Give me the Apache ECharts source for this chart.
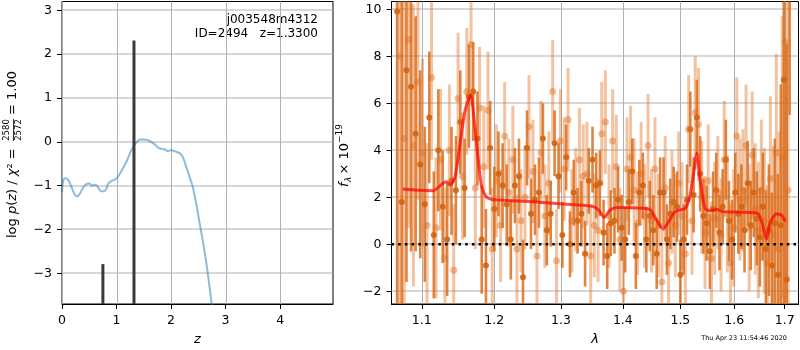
<!DOCTYPE html>
<html>
<head>
<meta charset="utf-8">
<script src="https://cdn.jsdelivr.net/npm/echarts@6/dist/echarts.min.js"></script>
<style>
  html, body { margin: 0; padding: 0; background: #fff; }
  #chart { width: 800px; height: 350px; }
</style>
</head>
<body>
<div id="chart"></div>
<script>
// left panel: log p(z)
const pzZ = [0, 0.03, 0.07, 0.12, 0.17, 0.22, 0.27, 0.32, 0.38, 0.44, 0.5, 0.55, 0.6, 0.64, 0.68, 0.72, 0.77,
  0.81, 0.85, 0.9, 0.95, 1.0, 1.06, 1.12, 1.18, 1.24, 1.29, 1.34, 1.39, 1.44, 1.5, 1.56, 1.62, 1.67, 1.72,
  1.77, 1.82, 1.88, 1.94, 2.0, 2.05, 2.1, 2.16, 2.22, 2.28, 2.34, 2.4, 2.46, 2.52, 2.58, 2.64, 2.7, 2.76];
const pzLog = [-1.15, -0.85, -0.83, -0.88, -1.02, -1.17, -1.25, -1.2, -1.06, -0.97, -0.95, -1.0, -0.98, -1.0,
  -1.08, -1.13, -1.13, -1.08, -0.95, -0.9, -0.87, -0.84, -0.73, -0.6, -0.46, -0.28, -0.15, -0.05, 0.02, 0.05,
  0.05, 0.04, 0.01, -0.03, -0.08, -0.14, -0.16, -0.17, -0.21, -0.19, -0.21, -0.23, -0.26, -0.36, -0.58, -0.8,
  -1.04, -1.4, -1.82, -2.25, -2.7, -3.25, -3.85];
const peakZ = [0.75, 1.32];
const peakTop = [-2.79, 2.31];

const zTicks = [0, 1, 2, 3, 4];
const pzTicks = [-3, -2, -1, 0, 1, 2, 3];

// right panel: spectrum
const waveTicks = [1.1, 1.2, 1.3, 1.4, 1.5, 1.6, 1.7];
const fluxTicks = [-2, 0, 2, 4, 6, 8, 10];

const darkWave = [1.068, 1.074, 1.080, 1.086, 1.092, 1.098, 1.104, 1.110, 1.116, 1.122, 1.128, 1.134, 1.140,
  1.146, 1.152, 1.158, 1.164, 1.170, 1.176, 1.182, 1.188, 1.194, 1.200, 1.206, 1.212, 1.218, 1.224, 1.230,
  1.236, 1.242, 1.248, 1.254, 1.260, 1.266, 1.272, 1.278, 1.284, 1.290, 1.296, 1.302, 1.308, 1.314, 1.320,
  1.326, 1.332, 1.338, 1.344, 1.350, 1.356, 1.362, 1.368, 1.374, 1.380, 1.386, 1.392, 1.398, 1.404, 1.410,
  1.416, 1.422, 1.428, 1.434, 1.440, 1.446, 1.452, 1.458, 1.464, 1.470, 1.476, 1.482, 1.488, 1.494, 1.500,
  1.506, 1.512, 1.518, 1.524, 1.530, 1.536, 1.542, 1.548, 1.554, 1.560, 1.566, 1.572, 1.578, 1.584, 1.590,
  1.596, 1.602, 1.608, 1.614, 1.620, 1.626, 1.632, 1.638, 1.644, 1.650, 1.656, 1.662, 1.668, 1.674, 1.680,
  1.686, 1.692, 1.698, 1.704, 1.710];
const darkFlux = [9.9, 1.8, 7.4, 6.7, 4.7, 3.4, 1.7, 5.4, 0.4, 4.0, 1.6, 0.2, 2.7, 2.3, 5.2, 2.4, 6.3, 6.5,
  4.5, 0.2, -0.9, 4.1, 1.5, 3.0, 2.5, 1.7, 0.2, 2.5, 2.9, -1.4, 4.1, 1.3, 1.9, 2.2, 4.5, 0.6, 1.3, 4.3, 2.9,
  0.4, 3.7, 0.0, 2.2, 1.0, 1.3, -0.4, 2.7, 3.6, 2.5, 2.6, 0.5, -0.5, 0.9, 1.0, 1.9, 0.7, 0.2, 1.8, 3.1, -0.5,
  2.2, 2.5, 0.2, 1.2, 0.6, -0.4, 2.2, 2.2, 0.2, 1.3, 1.8, 1.6, -1.3, 0.2, 1.9, 4.9, 2.1, 5.4, 3.0, 1.2, 0.9,
  -0.3, 1.5, 2.3, 0.5, 1.6, 3.6, 1.0, 0.2, 2.2, 1.3, 1.6, 0.6, 2.6, 0.8, 2.2, 1.1, 0.3, 1.6, -0.2, 0.6, -0.9,
  0.9, -1.3, 0.8, 7.0, -1.5, 12.0];
const darkErr = [15, 12, 9, 7, 5, 4, 3.3, 2.8, 2.7, 2.6, 2.4, 2.4, 2.3, 2.3, 2.2, 2.1, 2.2, 2.1, 2.0, 2.3, 2.4,
  2.0, 1.8, 1.8, 1.8, 1.7, 1.7, 1.6, 1.6, 1.6, 1.6, 1.5, 1.5, 1.5, 1.5, 1.5, 1.4, 1.4, 1.4, 1.4, 1.4, 1.4,
  1.4, 1.4, 1.4, 1.4, 1.4, 1.4, 1.4, 1.4, 1.4, 1.4, 1.4, 1.4, 1.4, 1.4, 1.4, 1.4, 1.4, 1.4, 1.4, 1.4, 1.4,
  1.5, 1.5, 1.5, 1.5, 1.5, 1.5, 1.5, 1.5, 1.5, 1.5, 1.5, 1.5, 1.6, 1.6, 1.6, 1.6, 1.6, 1.6, 1.6, 1.6, 1.6,
  1.6, 1.6, 1.7, 1.7, 1.7, 1.7, 1.7, 1.8, 1.8, 1.8, 1.9, 1.9, 2.0, 2.1, 2.3, 2.5, 2.8, 3.1, 3.6, 4.3, 6, 12,
  10, 6.5];

const lightWave = [1.071, 1.077, 1.083, 1.089, 1.095, 1.101, 1.107, 1.113, 1.119, 1.125, 1.131, 1.137, 1.143,
  1.149, 1.155, 1.161, 1.167, 1.173, 1.179, 1.185, 1.191, 1.197, 1.203, 1.209, 1.215, 1.221, 1.227, 1.233,
  1.239, 1.245, 1.251, 1.257, 1.263, 1.269, 1.275, 1.281, 1.287, 1.293, 1.299, 1.305, 1.311, 1.317, 1.323,
  1.329, 1.335, 1.341, 1.347, 1.353, 1.359, 1.365, 1.371, 1.377, 1.383, 1.389, 1.395, 1.401, 1.407, 1.413,
  1.419, 1.425, 1.431, 1.437, 1.443, 1.449, 1.455, 1.461, 1.467, 1.473, 1.479, 1.485, 1.491, 1.497, 1.503,
  1.509, 1.515, 1.521, 1.527, 1.533, 1.539, 1.545, 1.551, 1.557, 1.563, 1.569, 1.575, 1.581, 1.587, 1.593,
  1.599, 1.605, 1.611, 1.617, 1.623, 1.629, 1.635, 1.641, 1.647, 1.653, 1.659, 1.665, 1.671, 1.677, 1.683,
  1.689, 1.695, 1.701, 1.707];
const lightFlux = [8.0, 4.5, 8.7, 4.2, 6.9, 3.9, 0.8, 7.1, 0.7, 3.6, -0.6, 4.0, -1.1, 6.2, 2.9, 6.5, 8.5,
  2.4, 5.8, 3.3, 5.7, -0.2, 2.7, 0.8, 4.6, 2.2, 3.6, -0.2, 1.0, 2.0, 5.0, 3.1, -0.5, 3.9, 1.2, 2.6, 6.5, -0.7,
  4.4, 3.2, 5.3, 1.0, 1.9, 3.6, 2.9, 3.0, -0.5, 0.8, 0.6, 4.7, 5.2, 1.2, 4.4, 3.3, 0.2, -2.0, 3.2, 3.7, 2.3,
  0.9, 3.0, 1.2, 4.2, 1.0, 3.2, 0.8, -1.6, 2.4, -0.8, 1.8, 0.8, 2.6, 1.2, -0.4, 4.9, 1.0, 5.6, 5.1, 2.0, 0.5,
  2.7, -0.6, 1.1, 2.2, 0.4, 3.6, 1.3, -0.8, 0.7, 4.6, 1.9, 2.3, 4.2, 0.7, 3.8, 1.5, 0.6, 2.3, 1.0, -0.8, 2.8,
  0.4, 3.9, -0.2, 3.7, 8.6, 2.3];
const lightErr = [16, 12, 8, 6, 5, 4, 3.5, 3.5, 3, 3, 3, 2.8, 2.8, 2.8, 2.7, 2.7, 2.6, 2.6, 2.6, 2.6, 2.5, 2.6,
  2.4, 2.4, 2.3, 2.3, 2.3, 2.3, 2.2, 2.2, 2.2, 2.2, 2.2, 2.2, 2.2, 2.2, 2.2, 2.2, 2.2, 2.2, 2.2, 2.2, 2.2,
  2.2, 2.2, 2.2, 2.2, 2.2, 2.2, 2.2, 2.2, 2.2, 2.2, 2.2, 2.2, 2.2, 2.2, 2.2, 2.2, 2.2, 2.2, 2.2, 2.2, 2.2,
  2.2, 2.2, 2.2, 2.2, 2.2, 2.2, 2.2, 2.2, 2.3, 2.3, 2.3, 2.3, 2.4, 2.4, 2.4, 2.4, 2.4, 2.4, 2.4, 2.4, 2.4,
  2.5, 2.5, 2.5, 2.5, 2.5, 2.6, 2.6, 2.6, 2.7, 2.7, 2.8, 2.9, 3.0, 3.1, 3.3, 3.5, 3.8, 4.2, 5, 6, 12, 10];

const modelWave = [1.075, 1.095, 1.115, 1.1285, 1.133, 1.138, 1.1449, 1.1518, 1.1587, 1.1667, 1.1703, 1.176,
  1.182, 1.189, 1.198, 1.2036, 1.25, 1.304, 1.352, 1.36, 1.369, 1.379, 1.39, 1.435, 1.447, 1.458, 1.469,
  1.479, 1.491, 1.5085, 1.517, 1.524, 1.53, 1.536, 1.545, 1.554, 1.567, 1.579, 1.645, 1.6547, 1.663, 1.67,
  1.683, 1.693, 1.701];
const modelFlux = [2.35, 2.3, 2.28, 2.6, 2.66, 2.52, 2.88, 4.3, 5.7, 6.35, 5.6, 3.9, 2.45, 2.0, 1.9, 1.89,
  1.82, 1.71, 1.6, 1.46, 1.15, 1.46, 1.57, 1.53, 1.46, 1.03, 0.64, 0.96, 1.39, 1.53, 2.03, 3.02, 3.87, 2.74,
  1.53, 1.43, 1.48, 1.39, 1.32, 0.89, 0.21, 0.89, 1.29, 1.25, 0.96];

const font = 'DejaVu Sans';
const waveMin = 1.0608, waveMax = 1.7283;

const minusFmt = v => (v < 0 ? '\u2212' : '') + Math.abs(v);

function errorBars(color, width) {
    return (params, api) => {
        const cs = params.coordSys;
        const x = api.value(0), y = api.value(1), e = api.value(2);
        const hi = api.coord([x, y + e]);
        const lo = api.coord([x, y - e]);
        const y1 = Math.max(cs.y, hi[1]);
        const y2 = Math.min(cs.y + cs.height, lo[1]);
        if (y2 <= y1) return { type: 'group', children: [] };
        return {
            type: 'line',
            shape: { x1: hi[0], y1, x2: hi[0], y2 },
            style: { stroke: color, lineWidth: width }
        };
    };
}

// horizontal grid lines
function hGrid(params, api) {
    const cs = params.coordSys;
    const p = api.coord([api.value(0), api.value(1)]);
    return { type: 'rect', shape: { x: cs.x, y: Math.round(p[1]) - 0.5, width: cs.width, height: 1 }, style: { fill: '#b0b0b0' } };
}

function axisBase(ticks, fmt) {
    return {
        axisLine: { show: true, onZero: false, lineStyle: { color: '#000', width: 1 } },
        axisTick: { show: true, inside: false, length: 5, lineStyle: { color: '#000' }, customValues: ticks },
        axisLabel: { customValues: ticks, formatter: fmt, color: '#000', fontFamily: font, fontSize: 12.5, margin: 10 },
        splitLine: { show: false },
        minorTick: { show: false },
        minorSplitLine: { show: false }
    };
}

const chart = echarts.init(document.getElementById('chart'));

const labels = [
    {
        type: 'text', x: 318, y: 20,
        style: { text: 'j003548m4312', fontFamily: font, fontSize: 12, fill: '#000', align: 'right', verticalAlign: 'middle' }
    },
    {
        type: 'text', x: 318, y: 34,
        style: { text: 'ID=2494   z=1.3300', fontFamily: font, fontSize: 12, fill: '#000', align: 'right', verticalAlign: 'middle' }
    },
    {
        // y label of the left panel, with the chi2 ratio as a small fraction
        type: 'group', x: 13, y: 238, rotation: Math.PI / 2,
        children: [
            {
                type: 'text', x: 0, y: 0,
                style: {
                    text: 'log {i|p}({i|z}) / {i|\u03c7}\u00b2 =',
                    fontFamily: font, fontSize: 13, fill: '#000', align: 'left', verticalAlign: 'middle',
                    rich: { i: { fontFamily: font, fontSize: 13, fontStyle: 'italic', fill: '#000' } }
                }
            },
            {
                type: 'text', x: 108, y: -1.5,
                style: { text: '2580', fontFamily: font, fontSize: 8.5, fill: '#000', align: 'center', verticalAlign: 'bottom' }
            },
            {
                type: 'line', shape: { x1: 97, y1: 0.5, x2: 119, y2: 0.5 },
                style: { stroke: '#000', lineWidth: 0.8 }
            },
            {
                type: 'text', x: 108, y: 1.5,
                style: { text: '2572', fontFamily: font, fontSize: 8.5, fill: '#000', align: 'center', verticalAlign: 'top' }
            },
            {
                type: 'text', x: 123, y: 0,
                style: { text: '= 1.00', fontFamily: font, fontSize: 13, fill: '#000', align: 'left', verticalAlign: 'middle' }
            }
        ]
    },
    {
        type: 'group', x: 345, y: 187, rotation: Math.PI / 2,
        children: [
            {
                type: 'text', x: 0, y: 0,
                style: { text: 'f', fontFamily: font, fontSize: 13, fontStyle: 'italic', fill: '#000', align: 'left', verticalAlign: 'middle' }
            },
            {
                type: 'text', x: 5, y: 3.5,
                style: { text: '\u03bb', fontFamily: font, fontSize: 9, fontStyle: 'italic', fill: '#000', align: 'left', verticalAlign: 'middle' }
            },
            {
                type: 'text', x: 12.5, y: 0,
                style: { text: '\u00d7 10', fontFamily: font, fontSize: 13, fill: '#000', align: 'left', verticalAlign: 'middle' }
            },
            {
                type: 'text', x: 44, y: -5,
                style: { text: '\u221219', fontFamily: font, fontSize: 9, fill: '#000', align: 'left', verticalAlign: 'middle' }
            }
        ]
    },
    {
        type: 'text', x: 787, y: 338,
        style: { text: 'Thu Apr 23 11:54:46 2020', fontFamily: font, fontSize: 6.5, fill: '#000', align: 'right', verticalAlign: 'middle' }
    }
];

const option = {
    animation: false,
    backgroundColor: '#fff',
    grid: [
        { left: 62, right: 467, top: 1.5, bottom: 46, show: true, borderColor: '#000', borderWidth: 1, outerBoundsMode: 'none' },
        { left: 391.5, right: 1.5, top: 1.5, bottom: 46, show: true, borderColor: '#000', borderWidth: 1, outerBoundsMode: 'none' }
    ],
    xAxis: [
        Object.assign(axisBase(zTicks, v => String(v)), {
            type: 'value', gridIndex: 0, min: 0, max: 4.97,
            name: 'z', nameLocation: 'middle', nameGap: 29,
            nameTextStyle: { fontFamily: font, fontSize: 13, fontStyle: 'italic', color: '#000' }
        }),
        Object.assign(axisBase(waveTicks, v => v.toFixed(1)), {
            type: 'log', logBase: 10, gridIndex: 1, min: waveMin, max: waveMax,
            name: '\u03bb', nameLocation: 'middle', nameGap: 29,
            nameTextStyle: { fontFamily: font, fontSize: 13, fontStyle: 'italic', color: '#000' }
        })
    ],
    yAxis: [
        Object.assign(axisBase(pzTicks, minusFmt), { type: 'value', gridIndex: 0, min: -3.7, max: 3.2 }),
        Object.assign(axisBase(fluxTicks, minusFmt), { type: 'value', gridIndex: 1, min: -2.54, max: 10.33 })
    ],
    series: [
        {
            type: 'custom', xAxisIndex: 0, yAxisIndex: 0, z: 1, silent: true,
            data: pzTicks.map(v => [0.5, v]), renderItem: hGrid
        },
        {
            type: 'custom', xAxisIndex: 1, yAxisIndex: 1, z: 1, silent: true,
            data: fluxTicks.map(v => [1.2, v]), renderItem: hGrid
        },
        {
            type: 'line', xAxisIndex: 0, yAxisIndex: 0, z: 3,
            data: pzZ.map((z, i) => [z, pzLog[i]]),
            smooth: 0.3, showSymbol: false, clip: true,
            lineStyle: { color: '#1f77b4', opacity: 0.5, width: 2 }
        },
        {
            type: 'custom', xAxisIndex: 0, yAxisIndex: 0, z: 4,
            data: peakZ.map((z, i) => [z, peakTop[i]]),
            renderItem: (params, api) => {
                const cs = params.coordSys;
                const p = api.coord([api.value(0), api.value(1)]);
                const bottom = cs.y + cs.height;
                return { type: 'rect', shape: { x: p[0] - 1.5, y: p[1], width: 3, height: bottom - p[1] }, style: { fill: '#3a3a3a' } };
            }
        },
        {
            type: 'custom', xAxisIndex: 1, yAxisIndex: 1, z: 2,
            data: darkWave.map((w, i) => [w, darkFlux[i], darkErr[i]]),
            renderItem: errorBars('rgba(215,102,18,0.8)', 2.6)
        },
        {
            type: 'scatter', xAxisIndex: 1, yAxisIndex: 1, z: 3,
            data: darkWave.map((w, i) => [w, darkFlux[i]]),
            symbolSize: 6, clip: true,
            itemStyle: { color: 'rgb(212,100,15)', opacity: 0.9 }
        },
        {
            type: 'custom', xAxisIndex: 1, yAxisIndex: 1, z: 2,
            data: lightWave.map((w, i) => [w, lightFlux[i], lightErr[i]]),
            renderItem: errorBars('rgba(225,110,30,0.42)', 3)
        },
        {
            type: 'scatter', xAxisIndex: 1, yAxisIndex: 1, z: 3,
            data: lightWave.map((w, i) => [w, lightFlux[i]]),
            symbolSize: 7, clip: true,
            itemStyle: { color: 'rgb(225,110,30)', opacity: 0.45 }
        },
        {
            type: 'line', xAxisIndex: 1, yAxisIndex: 1, z: 5,
            data: modelWave.map((w, i) => [w, modelFlux[i]]),
            smooth: 0.25, showSymbol: false,
            lineStyle: { color: 'rgba(255,0,0,0.7)', width: 3 }
        },
        {
            type: 'line', xAxisIndex: 1, yAxisIndex: 1, z: 6,
            data: [[waveMin, 0], [waveMax, 0]],
            showSymbol: false,
            lineStyle: { color: '#000', width: 2.5, type: [2.5, 4.2] }
        }
    ],
    graphic: labels
};

chart.setOption(option);

// vertical grid lines, placed with the axes' own scales
const plotTop = 1.5, plotBottom = 304;
const vLines = [];
[[0, zTicks], [1, waveTicks]].forEach(([axisIndex, ticks]) => {
    ticks.forEach(v => {
        const px = Math.round(chart.convertToPixel({ xAxisIndex: axisIndex }, v)) + 0.5;
        vLines.push({
            type: 'line', z: 1, silent: true,
            shape: { x1: px, y1: plotTop, x2: px, y2: plotBottom },
            style: { stroke: '#b0b0b0', lineWidth: 1 }
        });
    });
});
chart.setOption({ graphic: labels.concat(vLines) });
</script>
</body>
</html>
